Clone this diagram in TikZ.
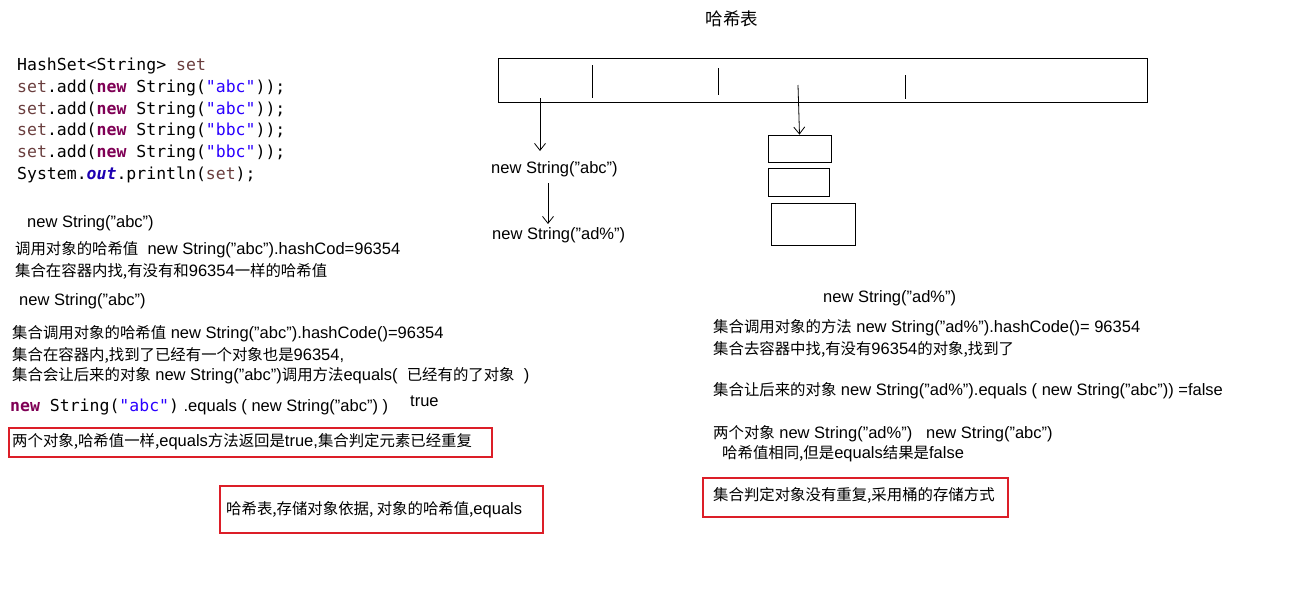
\documentclass[tikz,border=0pt]{standalone}
\usepackage{fontspec}
\usetikzlibrary{arrows.meta}
\setmainfont{Liberation Sans}
\setmonofont{DejaVu Sans Mono}
\newfontfamily\zhf{Noto Sans CJK SC}
\newcommand{\zh}[1]{{\zhf\fontsize{15.4}{19}\selectfont #1}}
\definecolor{kw}{RGB}{127,0,85}
\definecolor{str}{RGB}{42,0,255}
\definecolor{var}{RGB}{106,62,62}
\definecolor{redb}{RGB}{220,30,40}
\begin{document}
\begin{tikzpicture}[x=1pt,y=-1pt,
  t/.style={anchor=west,inner sep=0pt,font=\fontsize{16.5}{19}\selectfont},
  code/.style={anchor=west,inner sep=0pt,font=\ttfamily\fontsize{16.5}{20}\selectfont},
  redbox/.style={draw=redb,line width=2pt},
  blk/.style={draw,line width=0.8pt},
  arr/.style={-{Straight Barb[length=7pt,width=11pt]},line width=0.8pt}]
\useasboundingbox (0,0) rectangle (1299,603);
\node (title) at (732,19) [anchor=center,inner sep=0pt] {{\zhf\fontsize{17.5}{20}\selectfont 哈希表}};
% code
\node[code] (c1) at (17,66) {HashSet<String> \textcolor{var}{set}};
\node[code] (c2) at (17,88) {\textcolor{var}{set}.add(\textcolor{kw}{\textbf{new}} String(\textcolor{str}{"abc"}));};
\node[code] (c3) at (17,110) {\textcolor{var}{set}.add(\textcolor{kw}{\textbf{new}} String(\textcolor{str}{"abc"}));};
\node[code] (c4) at (17,131) {\textcolor{var}{set}.add(\textcolor{kw}{\textbf{new}} String(\textcolor{str}{"bbc"}));};
\node[code] (c5) at (17,153) {\textcolor{var}{set}.add(\textcolor{kw}{\textbf{new}} String(\textcolor{str}{"bbc"}));};
\node[code] (c6) at (17,175) {System.\textcolor{str!70!black}{\textbf{\textit{out}}}.println(\textcolor{var}{set});};
% left texts
\node[t] (l1) at (27,223) {new String("abc")};
\node[t] (l2) at (15,250) {\zh{调用对象的哈希值}\ \ new String("abc").hashCod=96354};
\node[t] (l3) at (15,271) {\zh{集合在容器内找,有没有和}96354\zh{一样的哈希值}};
\node[t] (l4) at (19,301) {new String("abc")};
\node[t] (l5) at (12,334) {\zh{集合调用对象的哈希值} new String("abc").hashCode()=96354};
\node[t] (l6) at (12,355) {\zh{集合在容器内,找到了已经有一个对象也是}96354,};
\node[t] (l7) at (12,376) {\zh{集合会让后来的对象} new String("abc")\zh{调用方法}equals(\ \ \zh{已经有的了对象}\ \ )};
\node[t] (l8) at (10,407) {{\ttfamily\fontsize{16.5}{20}\selectfont\textcolor{kw}{\textbf{new}} String(\textcolor{str}{"abc"})} .equals ( new String("abc") )};
\node[t] (l9) at (410,401) {true};
\draw[redbox] (9,428) rectangle (492,457);
\node[t] (l10) at (12,442) {\zh{两个对象,哈希值一样,}equals\zh{方法返回是}true,\zh{集合判定元素已经重复}};
\draw[redbox] (220,486) rectangle (543,533);
\node[t] (l11) at (226,510) {\zh{哈希表,存储对象依据, 对象的哈希值,}equals};
% table
\draw[blk] (498,58) rectangle (1147,102);
\draw[blk] (592,65) -- (592,98);
\draw[blk] (718,68) -- (718,95);
\draw[blk] (905,75) -- (905,99);
\coordinate (a1s) at (540,98);
\node[t] (m1) at (491,169) {new String("abc")};
\draw[arr] (a1s) -- (540,151);
\coordinate (a2s) at (548,183);
\node[t] (m2) at (492,235) {new String("ad\%")};
\draw[arr] (a2s) -- (548,224);
\node[blk,minimum width=63,minimum height=27,inner sep=0pt] (b1) at (799.5,148.5) {};
\node[blk,minimum width=61,minimum height=28,inner sep=0pt] (b2) at (798.5,182) {};
\node[blk,minimum width=84,minimum height=42,inner sep=0pt] (b3) at (813,224) {};
\coordinate (a3s) at (798,85);
\draw[arr] (a3s) -- (b1.north);
% right texts
\node[t] (r1) at (823,298) {new String("ad\%")};
\node[t] (r2) at (713,328) {\zh{集合调用对象的方法} new String("ad\%").hashCode()= 96354};
\node[t] (r3) at (713,349) {\zh{集合去容器中找,有没有}96354\zh{的对象,找到了}};
\node[t] (r4) at (713,391) {\zh{集合让后来的对象} new String("ad\%").equals ( new String("abc")) =false};
\node[t] (r5) at (713,434) {\zh{两个对象} new String("ad\%")\ \ \ new String("abc")};
\node[t] (r6) at (722,454) {\zh{哈希值相同,但是}equals\zh{结果是}false};
\draw[redbox] (703,478) rectangle (1008,517);
\node[t] (r7) at (713,495) {\zh{集合判定对象没有重复,采用桶的存储方式}};
\end{tikzpicture}
\end{document}
